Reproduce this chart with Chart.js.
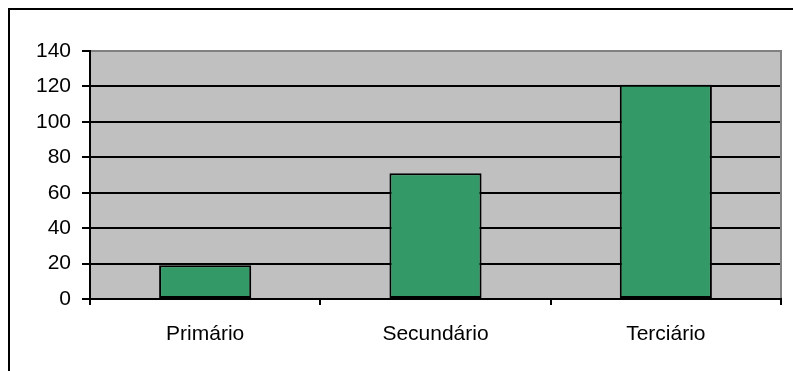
<!DOCTYPE html>
<html>
<head>
<meta charset="utf-8">
<script src="https://cdn.jsdelivr.net/npm/chart.js@4/dist/chart.umd.min.js"></script>
<style>
  body { margin: 0; background: #fff; }
  #wrap { width: 793px; height: 371px; }
</style>
</head>
<body>
<div id="wrap"><canvas id="chart" width="793" height="371"></canvas></div>
<script>
const categories = ['Primário', 'Secundário', 'Terciário'];
const values = [19, 71, 121];
const yTicks = [0, 20, 40, 60, 80, 100, 120, 140];

// plot background + frame (Excel-style)
const framePlugin = {
    id: 'frame',
    beforeDraw(chart) {
        const { ctx, chartArea: a } = chart;
        ctx.save();
        ctx.fillStyle = '#c0c0c0';
        ctx.fillRect(a.left, a.top, a.right - a.left, a.bottom - a.top);
        ctx.restore();
    },
    afterDraw(chart) {
        const { ctx, chartArea: a } = chart;
        ctx.save();
        ctx.strokeStyle = '#808080';
        ctx.lineWidth = 2;
        ctx.beginPath();
        ctx.moveTo(a.left + 1, a.top);
        ctx.lineTo(a.right, a.top);
        ctx.lineTo(a.right, a.bottom - 1);
        ctx.stroke();
        // outer chart border (only top/left visible)
        ctx.strokeStyle = '#000';
        ctx.beginPath();
        ctx.moveTo(9, chart.height);
        ctx.lineTo(9, 9);
        ctx.lineTo(chart.width, 9);
        ctx.stroke();
        ctx.restore();
    }
};

const font = { family: 'Liberation Sans, Arial, sans-serif', size: 21 };

new Chart(document.getElementById('chart'), {
    type: 'bar',
    data: {
        labels: categories,
        datasets: [{
            data: values,
            backgroundColor: '#339966',
            borderColor: '#000',
            borderWidth: 2,
            borderSkipped: false,
            barPercentage: 0.4,
            categoryPercentage: 1
        }]
    },
    options: {
        responsive: false,
        animation: false,
        layout: { padding: { top: 51, right: 12, left: 0, bottom: 0 } },
        plugins: { legend: { display: false }, tooltip: { enabled: false } },
        scales: {
            x: {
                grid: { display: true, drawOnChartArea: false, color: '#000', lineWidth: 2, tickLength: 6, offset: true },
                border: { display: true, color: '#000', width: 2 },
                ticks: { color: '#000', font: font, padding: 17, maxRotation: 0 },
                afterFit(s) { s.height = 72; }
            },
            y: {
                min: 0,
                max: 140,
                afterBuildTicks(s) { s.ticks = yTicks.map(v => ({ value: v })); },
                grid: { color: '#000', lineWidth: 2, tickLength: 8 },
                border: { display: true, color: '#000', width: 2 },
                ticks: { color: '#000', font: font, padding: 11 },
                afterFit(s) { s.width = 90; }
            }
        }
    },
    plugins: [framePlugin]
});
</script>
</body>
</html>
